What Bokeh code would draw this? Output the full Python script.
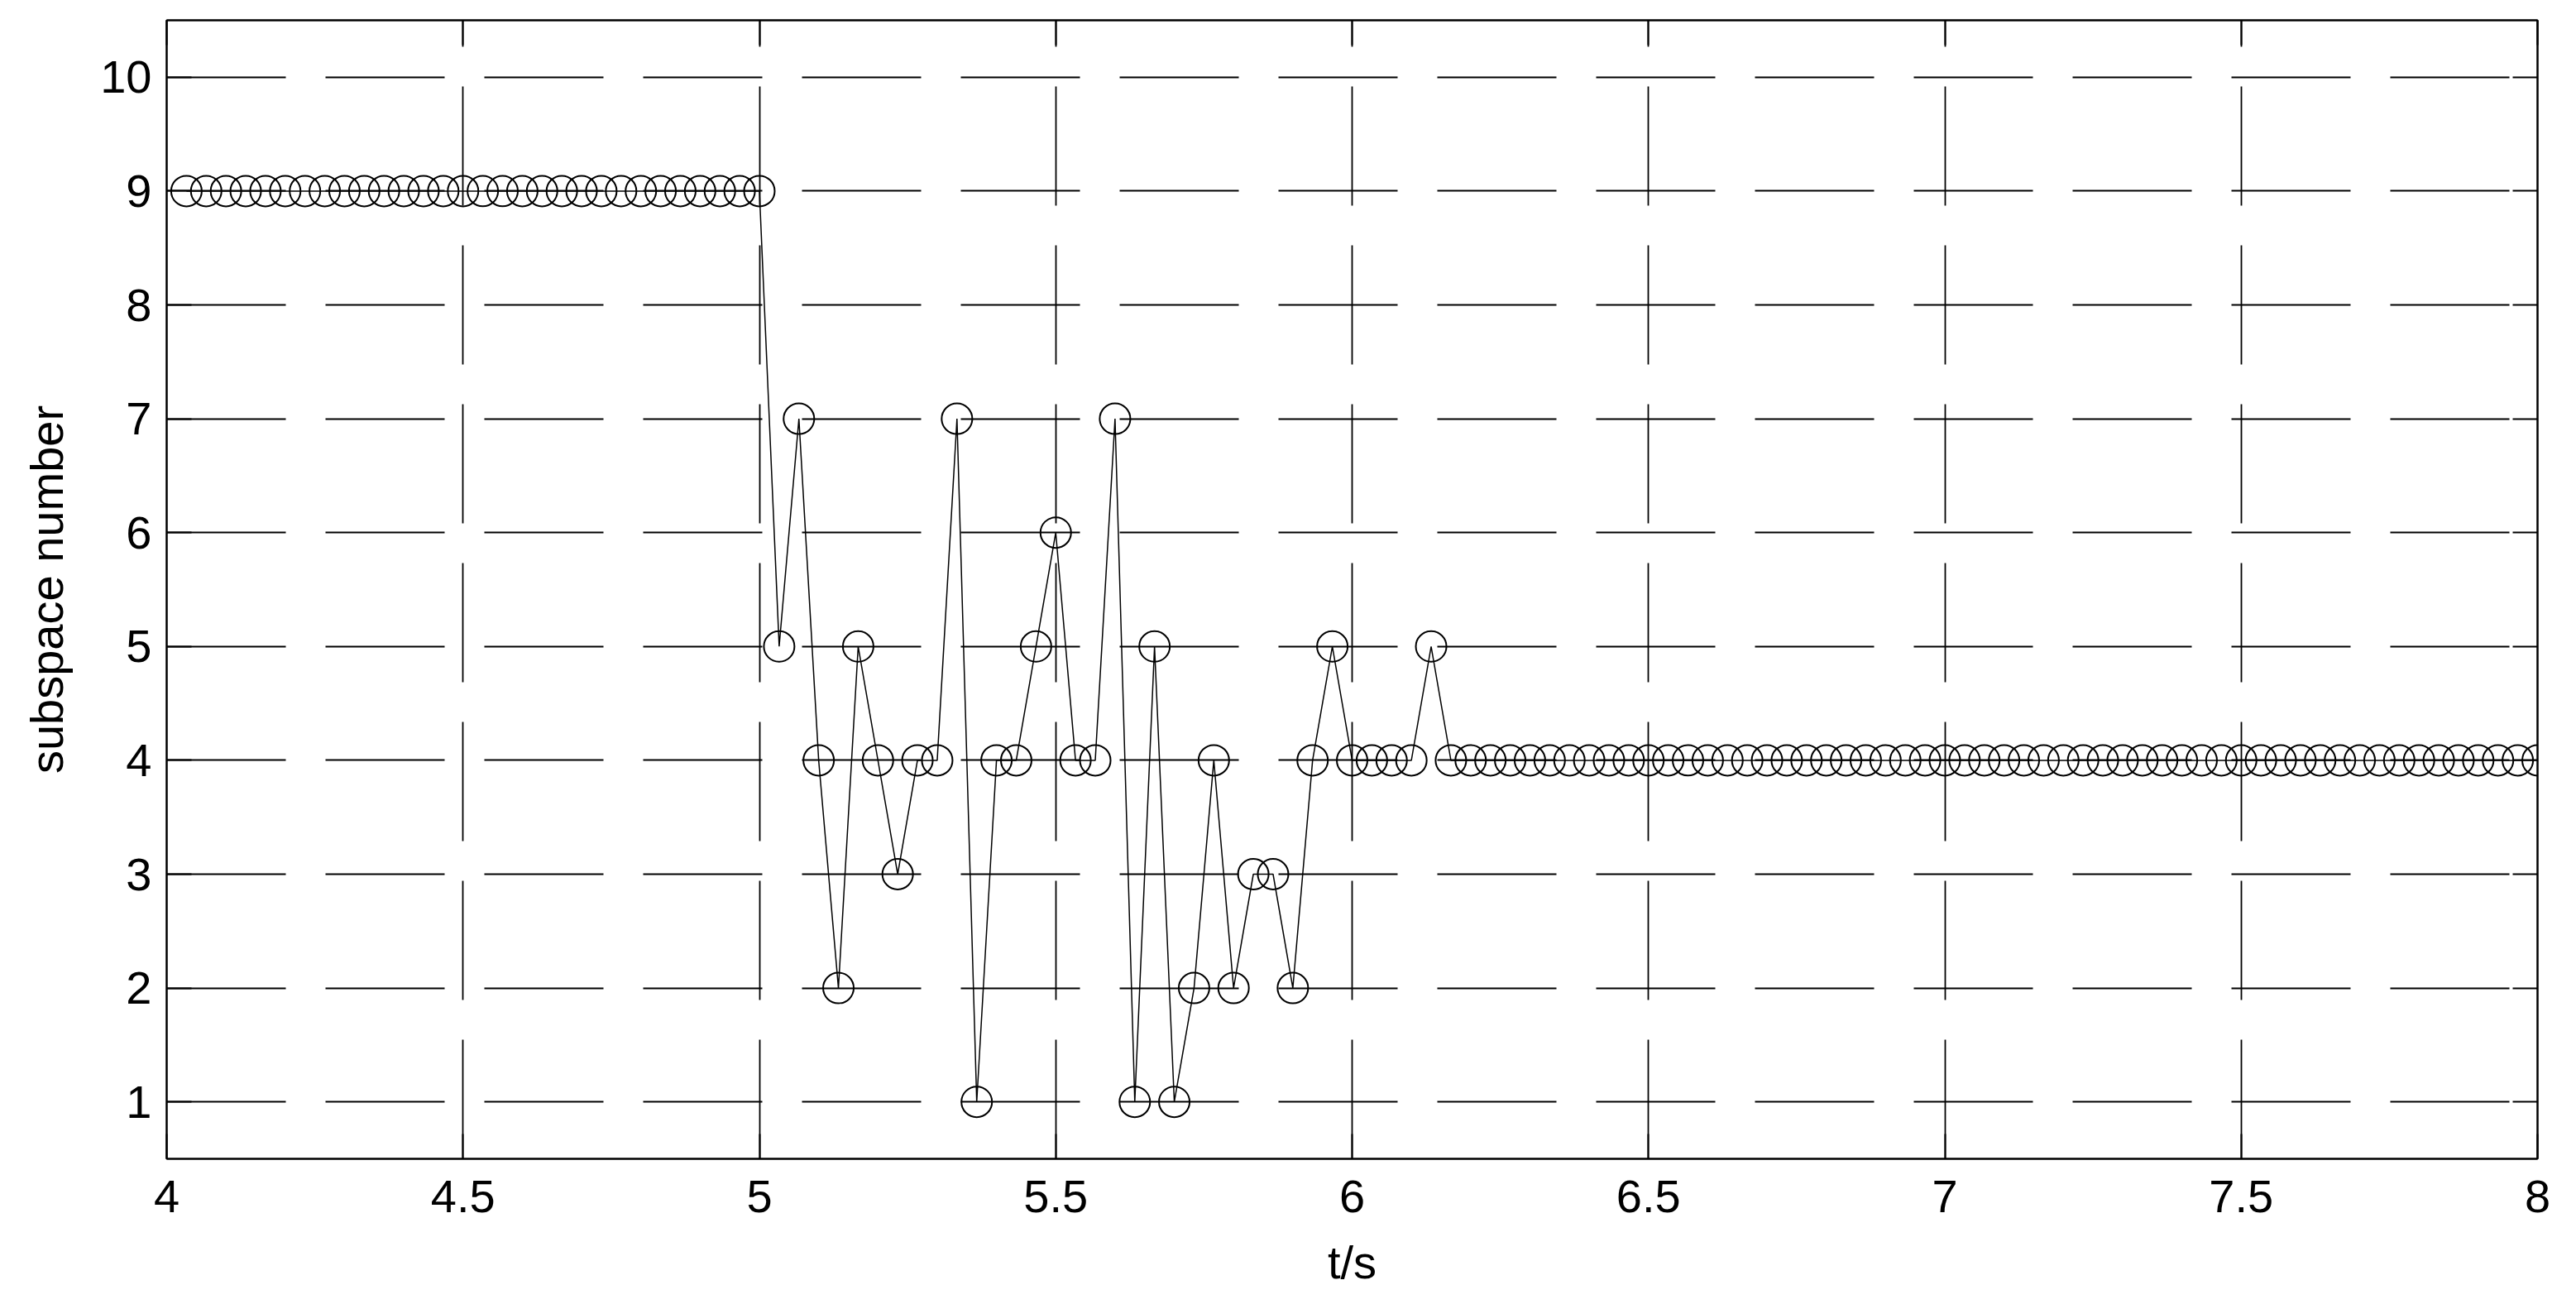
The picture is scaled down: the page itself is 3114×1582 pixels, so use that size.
from bokeh.plotting import figure
from bokeh.models import Range1d, FixedTicker, LinearAxis
from bokeh.embed import file_html
from bokeh.resources import INLINE

# ---- data ----
t_first = 4 + 1 / 30          # first sample time (s)
sample_period = 1 / 30        # sampling step (s)
subspace = [
    9, 9, 9, 9, 9, 9, 9, 9, 9, 9,
    9, 9, 9, 9, 9, 9, 9, 9, 9, 9,
    9, 9, 9, 9, 9, 9, 9, 9, 9, 9,
    5, 7, 4, 2, 5, 4, 3, 4, 4, 7,
    1, 4, 4, 5, 6, 4, 4, 7, 1, 5,
    1, 2, 4, 2, 3, 3, 2, 4, 5, 4,
    4, 4, 4, 5,
    4, 4, 4, 4, 4, 4, 4, 4, 4, 4,
    4, 4, 4, 4, 4, 4, 4, 4, 4, 4,
    4, 4, 4, 4, 4, 4, 4, 4, 4, 4,
    4, 4, 4, 4, 4, 4, 4, 4, 4, 4,
    4, 4, 4, 4, 4, 4, 4, 4, 4, 4,
    4, 4, 4, 4, 4, 4,
]
t = [t_first + i * sample_period for i in range(len(subspace))]

x_ticks = [4, 4.5, 5, 5.5, 6, 6.5, 7, 7.5, 8]
x_tick_labels = ["4", "4.5", "5", "5.5", "6", "6.5", "7", "7.5", "8"]
y_ticks = [1, 2, 3, 4, 5, 6, 7, 8, 9, 10]
y_tick_labels = ["1", "2", "3", "4", "5", "6", "7", "8", "9", "10"]
x_label = "t/s"
y_label = "subspace number"

FONT = "Liberation Sans"
FS = "56px"

p = figure(width=3098, height=1582, output_backend="svg", toolbar_location=None,
           x_range=Range1d(4, 8), y_range=Range1d(0.5, 10.5),
           min_border_left=201, min_border_right=31, min_border_top=24,
           min_border_bottom=182)
p.background_fill_color = "white"
p.border_fill_color = "white"
p.outline_line_color = "black"
p.outline_line_width = 2

xt = FixedTicker(ticks=x_ticks)
yt = FixedTicker(ticks=y_ticks)

# grid
for g, tk in ((p.xgrid, xt), (p.ygrid, yt)):
    g.ticker = tk
    g.grid_line_color = "black"
    g.grid_line_width = 1.8
    g.grid_line_dash = "144 48"
    g.grid_line_alpha = 1.0


def style_axis(ax, labels, ticks):
    ax.axis_line_color = "black"
    ax.axis_line_width = 2
    ax.major_tick_line_color = "black"
    ax.major_tick_line_width = 2
    ax.major_tick_in = 30
    ax.major_tick_out = 0
    ax.minor_tick_line_color = None
    if labels:
        ax.major_label_text_font = FONT
        ax.major_label_text_font_size = FS
        ax.major_label_text_color = "black"
        ax.axis_label_text_font = FONT
        ax.axis_label_text_font_size = FS
        ax.axis_label_text_font_style = "normal"
        ax.axis_label_text_color = "black"
    else:
        ax.major_label_overrides = {k: "" for k in ticks}
        ax.major_label_text_font_size = "2px"
        ax.major_label_standoff = 0


xa = p.xaxis[0]
xa.ticker = xt
xa.major_label_overrides = {k: v for k, v in zip(x_ticks, x_tick_labels)}
xa.axis_label = x_label
xa.major_label_standoff = 26
xa.axis_label_standoff = 26
style_axis(xa, True, x_ticks)

ya = p.yaxis[0]
ya.ticker = yt
ya.major_label_overrides = {k: v for k, v in zip(y_ticks, y_tick_labels)}
ya.axis_label = y_label
ya.major_label_standoff = 18
ya.axis_label_standoff = 30
style_axis(ya, True, y_ticks)

top = LinearAxis(ticker=FixedTicker(ticks=x_ticks))
style_axis(top, False, x_ticks)
p.add_layout(top, "above")
right = LinearAxis(ticker=FixedTicker(ticks=y_ticks))
style_axis(right, False, y_ticks)
p.add_layout(right, "right")

p.line(t, subspace, line_color="black", line_width=1.5)
p.scatter(t, subspace, marker="circle", size=37, fill_color=None,
          line_color="black", line_width=2)

open("out.html", "w").write(file_html(p, INLINE))
